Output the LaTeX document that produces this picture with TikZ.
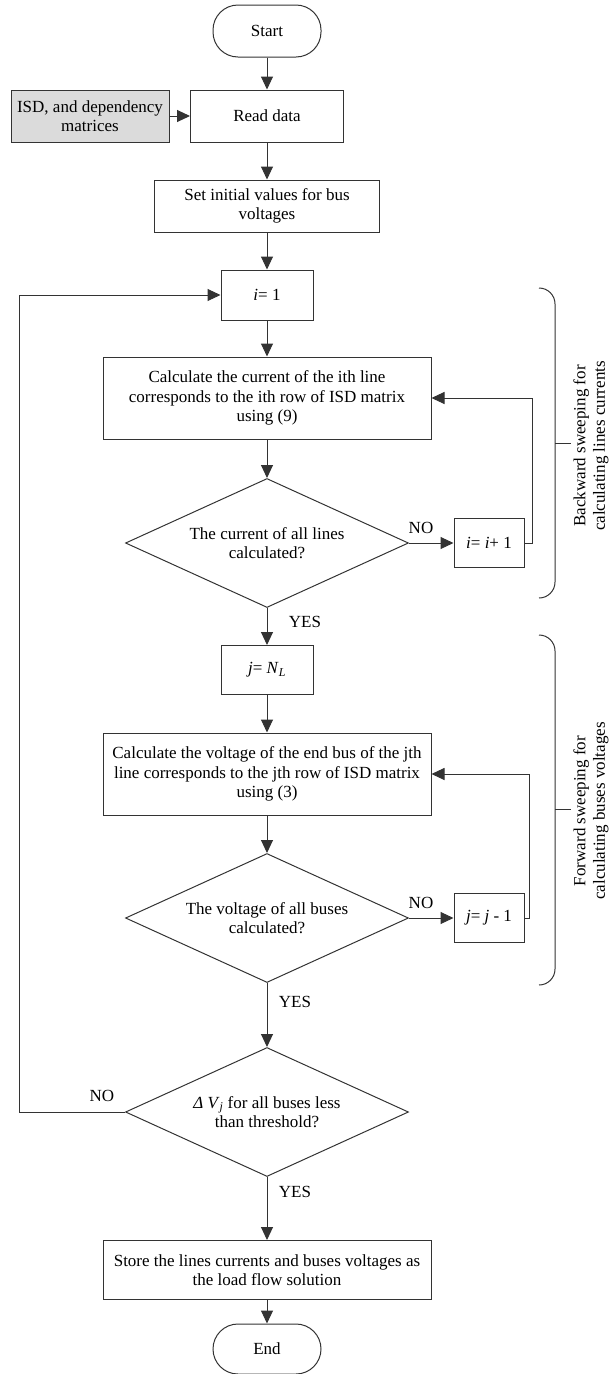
\documentclass[tikz,border=0pt]{standalone}
\usepackage{fontspec}
\setmainfont{Liberation Serif}
\usepackage{tikz}
\usetikzlibrary{arrows.meta,shapes.geometric}

\tikzset{
  every node/.style={font=\fontsize{17}{19.5}\selectfont},
  proc/.style={draw=black!80, line width=1pt, rectangle, align=center, inner sep=2pt},
  term/.style={draw=black!80, line width=1pt, rectangle, rounded corners=25pt,
    minimum width=108pt, minimum height=52pt},
  dec/.style={draw=black!80, line width=1pt, diamond, aspect=2.2, align=center, inner sep=0pt,
    minimum width=283pt, minimum height=129pt},
  flow/.style={draw=black!80, line width=1pt, -{Triangle[length=13pt,width=12pt]}},
  lbl/.style={inner sep=1pt},
  brace/.style={draw=black!80, line width=1pt}
}

\begin{document}
\begin{tikzpicture}[x=1pt,y=-1pt]
  \useasboundingbox (0,0) rectangle (613,1374);

  % main column
  \node[term] (start) at (267,31) {Start};
  \node[proc, minimum width=153pt, minimum height=52pt] (read) at (267,116) {Read data};
  \node[proc, fill=black!14, minimum width=158pt, minimum height=52pt] (isd) at (90,116)
    {ISD, and dependency\\matrices};
  \node[proc, minimum width=225pt, minimum height=52pt] (init) at (267,206)
    {Set initial values for bus\\voltages};
  \node[proc, minimum width=92pt, minimum height=50pt] (ione) at (267,295) {\textit{i}= 1};
  \node[proc, minimum width=328pt, minimum height=82pt] (calcI) at (267,398)
    {Calculate the current of the ith line\\corresponds to the ith row of ISD matrix\\using (9)};
  \node[dec] (dI) at (267,543) {The current of all lines\\calculated?};
  \node[proc, minimum width=70pt, minimum height=49pt] (inc) at (489,543) {\textit{i}= \textit{i}+ 1};
  \node[proc, minimum width=92pt, minimum height=49pt] (jset) at (267,670)
    {\textit{j}= \textit{N}\textsubscript{\textit{L}}};
  \node[proc, minimum width=328pt, minimum height=82pt] (calcV) at (267,774)
    {Calculate the voltage of the end bus of the jth\\line corresponds to the jth row of ISD matrix\\using (3)};
  \node[dec] (dV) at (267,918) {The voltage of all buses\\calculated?};
  \node[proc, minimum width=70pt, minimum height=49pt] (dec) at (489,918) {\textit{j}= \textit{j} - 1};
  \node[dec] (dT) at (267,1112)
    {\textit{Δ V}\textsubscript{\textit{j}} for all buses less\\than threshold?};
  \node[proc, minimum width=328pt, minimum height=59pt] (store) at (267,1270)
    {Store the lines currents and buses voltages as\\the load flow solution};
  \node[term, minimum height=50pt] (end) at (267,1349) {End};

  % connectors
  \draw[flow] (start) -- (read);
  \draw[flow] (isd) -- (read);
  \draw[flow] (read) -- (init);
  \draw[flow] (init) -- (ione);
  \draw[flow] (ione) -- (calcI);
  \draw[flow] (calcI) -- (dI);
  \draw[flow] (dI) -- (jset);
  \draw[flow] (dI.east) -- (inc);
  \draw[flow] (inc.east) -- ++(8,0) |- (calcI.east);
  \draw[flow] (jset) -- (calcV);
  \draw[flow] (calcV) -- (dV);
  \draw[flow] (dV.east) -- (dec);
  \draw[flow] (dec.east) -- ++(5,0) |- (calcV.east);
  \draw[flow] (dV) -- (dT);
  \draw[flow] (dT) -- (store);
  \draw[flow] (dT.west) -- ++(-106,0) |- (ione.west);
  \draw[flow] (store) -- (end);

  % branch labels
  \node[lbl] (noI) at (421,528) {NO};
  \node[lbl] (yesI) at (305,622) {YES};
  \node[lbl] (noV) at (421,903) {NO};
  \node[lbl] (yesV) at (295,1002) {YES};
  \node[lbl] (noT) at (102,1096) {NO};
  \node[lbl] (yesT) at (295,1192) {YES};

  % braces
  \draw[brace] (539,288) to[out=0,in=90] (555,304) -- (555,582) to[out=-90,in=0] (539,598);
  \draw[brace] (555,443) -- (571,443);
  \draw[brace] (539,635) to[out=0,in=90] (555,651) -- (555,969) to[out=-90,in=0] (539,985);
  \draw[brace] (555,809) -- (571,809);
  \node[rotate=90, align=center] (bwd) at (591,446) {Backward sweeping for\\calculating lines currents};
  \node[rotate=90, align=center] (fwd) at (591,811) {Forward sweeping for\\calculating buses voltages};
\end{tikzpicture}
\end{document}
